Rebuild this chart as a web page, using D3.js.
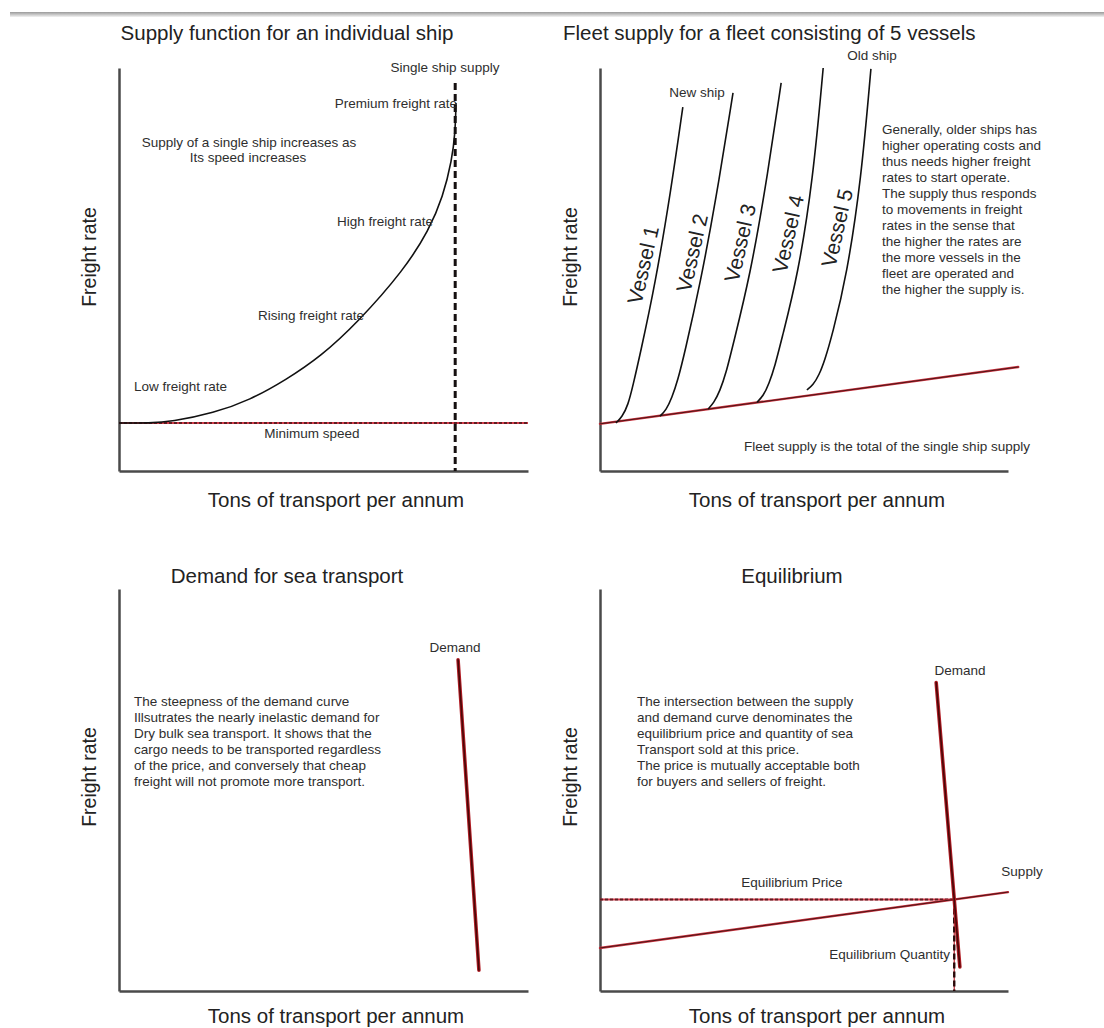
<!DOCTYPE html>
<html><head><meta charset="utf-8">
<script src="https://cdn.jsdelivr.net/npm/d3@7"></script>
<style>body{margin:0;background:#fff;} svg{display:block;font-family:"Liberation Sans",Arial,sans-serif;}</style>
</head><body><svg id="c" width="1104" height="1028"></svg>
<script>
// ---------- DATA ----------
const panelTitles = ["Supply function for an individual ship", "Fleet supply for a fleet consisting of 5 vessels", "Demand for sea transport", "Equilibrium"];
const xAxisLabel = "Tons of transport per annum";
const yAxisLabel = "Freight rate";

// Panel 1: single ship supply curve (x: tons 0-100, y: freight rate 0-100)
const shipCurveX = [0, 7.6, 12.7, 23.2, 32.0, 40.8, 49.4, 58.2, 69.7, 75.8, 79.2, 81.4, 82.2, 82.4];
const shipCurveY = [11.9, 11.9, 12.2, 14.4, 17.6, 22.6, 28.5, 36.7, 49.9, 59.8, 68.0, 77.2, 83.9, 91.3];
const minSpeedRate = [11.9];
const shipCapacity = [82.2];
const shipCapacityTop = [96.3];
const shipLabels = ["Single ship supply", "Premium freight rate", "Supply of a single ship increases as", "Its speed increases", "High freight rate", "Rising freight rate", "Low freight rate", "Minimum speed"];

// Panel 2: fleet supply
const fleetSupplyX = [0, 102.5];
const fleetSupplyY = [11.7, 25.8];
const vesselNames = ["Vessel 1", "Vessel 2", "Vessel 3", "Vessel 4", "Vessel 5"];
const vesselX = [
  [3.9, 5.4, 6.9, 8.1, 9.8, 13.5, 17.4, 20.3],
  [14.7, 16.2, 17.6, 19.1, 20.8, 24.5, 28.4, 32.6],
  [26.5, 27.9, 29.4, 30.9, 32.6, 36.8, 40.7, 44.4],
  [38.5, 40.0, 41.4, 42.9, 44.6, 48.5, 52.2, 54.7],
  [50.7, 52.2, 53.7, 55.1, 56.9, 60.5, 64.0, 66.4]
];
const vesselY = [
  [11.9, 13.4, 16.4, 21.3, 28.8, 46.2, 69.7, 90.3],
  [13.6, 15.1, 18.1, 22.6, 29.5, 46.2, 67.2, 93.8],
  [15.4, 16.9, 19.9, 24.3, 31.3, 48.6, 71.0, 96.3],
  [17.1, 18.6, 21.6, 26.1, 33.0, 48.6, 72.2, 100],
  [20.1, 21.3, 23.8, 27.5, 33.7, 48.6, 72.2, 99.8]
];
const fleetEndLabels = ["New ship", "Old ship"];
const fleetNote = ["Generally, older ships has", "higher operating costs and", "thus needs higher freight", "rates to start operate.", "The supply thus responds", "to movements in freight", "rates in the sense that", "the higher the rates are", "the more vessels in the", "fleet are operated and", "the higher the supply is."];
const fleetFooter = "Fleet supply is the total of the single ship supply";

// Panel 3: demand
const demandX = [82.9, 88.0];
const demandY = [82.4, 5.2];
const demandNote = ["The steepness of the demand curve", "Illsutrates the nearly inelastic demand for", "Dry bulk sea transport. It shows that the", "cargo needs to be transported regardless", "of the price, and conversely that cheap", "freight will not promote more transport."];

// Panel 4: equilibrium
const eqDemandX = [82.4, 88.2];
const eqDemandY = [76.7, 6.0];
const eqSupplyX = [0, 100];
const eqSupplyY = [10.7, 24.6];
const eqLabels = ["Demand", "Supply", "Equilibrium Price", "Equilibrium Quantity"];
const eqNote = ["The intersection between the supply", "and demand curve denominates the", "equilibrium price and quantity of sea", "Transport sold at this price.", "The price is mutually acceptable both", "for buyers and sellers of freight."];

// ---------- LAYOUT ----------
const svg = d3.select("#c");
const TXT = "#2e2e2e";
const AX = "#4a4a4a";
const SMALL = 13.5;
const layout = [
  {x0: 119, y0: 471, w: 409, h: 403, lab: 507},
  {x0: 600, y0: 471, w: 408, h: 403, lab: 507},
  {x0: 119, y0: 991, w: 409, h: 402, lab: 1023},
  {x0: 600, y0: 991, w: 408, h: 402, lab: 1023}
];

// top shadow bar
const defs = svg.append("defs");
const grad = defs.append("linearGradient").attr("id", "topbar").attr("x1", 0).attr("x2", 0).attr("y1", 0).attr("y2", 1);
grad.append("stop").attr("offset", "0%").attr("stop-color", "#9a9a9a");
grad.append("stop").attr("offset", "100%").attr("stop-color", "#f2f2f2");
svg.append("rect").attr("x", 10).attr("y", 12).attr("width", 1094).attr("height", 5).attr("fill", "url(#topbar)");

const scales = layout.map(L => ({
  x: d3.scaleLinear().domain([0, 100]).range([L.x0, L.x0 + L.w]),
  y: d3.scaleLinear().domain([0, 100]).range([L.y0, L.y0 - L.h])
}));

// axes
layout.forEach((L, i) => {
  const s = scales[i];
  const g = svg.append("g");
  g.append("g").attr("transform", `translate(0,${L.y0})`)
    .call(d3.axisBottom(s.x).ticks(0).tickSizeOuter(0))
    .call(a => a.select(".domain").attr("stroke", AX).attr("stroke-width", 2.5));
  g.append("g").attr("transform", `translate(${L.x0},0)`)
    .call(d3.axisLeft(s.y).ticks(0).tickSizeOuter(0))
    .call(a => a.select(".domain").attr("stroke", AX).attr("stroke-width", 2.5));
  svg.append("text").attr("x", L.x0 + 217).attr("y", L.lab)
    .attr("text-anchor", "middle").attr("font-size", 20.5).attr("fill", "#222").text(xAxisLabel);
  svg.append("text").attr("transform", `translate(${L.x0 - 23},${L.y0 - 214}) rotate(-90)`)
    .attr("text-anchor", "middle").attr("font-size", 19.5).attr("fill", "#222").text(yAxisLabel);
});

// titles
const TS = 20.5;
svg.append("text").attr("x", 287).attr("y", 40).attr("text-anchor", "middle").attr("font-size", TS).attr("fill", "#222").text(panelTitles[0]);
svg.append("text").attr("x", 563).attr("y", 40).attr("text-anchor", "start").attr("font-size", TS).attr("fill", "#222").text(panelTitles[1]);
svg.append("text").attr("x", 287).attr("y", 583).attr("text-anchor", "middle").attr("font-size", TS).attr("fill", "#222").text(panelTitles[2]);
svg.append("text").attr("x", 792).attr("y", 583).attr("text-anchor", "middle").attr("font-size", TS).attr("fill", "#222").text(panelTitles[3]);

function label(x, y, t, anchor) {
  return svg.append("text").attr("x", x).attr("y", y).attr("text-anchor", anchor || "start")
    .attr("font-size", SMALL).attr("fill", TXT).text(t);
}
function redDashed(x1, y1, x2, y2) {
  svg.append("line").attr("x1", x1).attr("y1", y1).attr("x2", x2).attr("y2", y2)
    .attr("stroke", "#d23a4a").attr("stroke-width", 2);
  svg.append("line").attr("x1", x1).attr("y1", y1).attr("x2", x2).attr("y2", y2)
    .attr("stroke", "#3a1414").attr("stroke-width", 2).attr("stroke-dasharray", "3,2").attr("opacity", 0.75);
}
function redLine(x1, y1, x2, y2, wide) {
  svg.append("line").attr("x1", x1).attr("y1", y1).attr("x2", x2).attr("y2", y2)
    .attr("stroke", wide ? "#b01c24" : "#cc3340").attr("stroke-width", wide ? 3.6 : 2.4).attr("stroke-linecap", "round");
  svg.append("line").attr("x1", x1).attr("y1", y1).attr("x2", x2).attr("y2", y2)
    .attr("stroke", wide ? "#4a0808" : "#4a1515").attr("stroke-width", wide ? 1.6 : 1).attr("stroke-linecap", "round");
}

// ---------- PANEL 1 ----------
{
  const s = scales[0];
  redDashed(s.x(0), s.y(minSpeedRate[0]), s.x(100), s.y(minSpeedRate[0]));
  svg.append("line").attr("x1", s.x(shipCapacity[0])).attr("x2", s.x(shipCapacity[0]))
    .attr("y1", s.y(shipCapacityTop[0])).attr("y2", s.y(0))
    .attr("stroke", "#161010").attr("stroke-width", 3).attr("stroke-dasharray", "7,4");
  const pts = shipCurveX.map((v, i) => [v, shipCurveY[i]]);
  svg.append("path").datum(pts)
    .attr("d", d3.line().x(d => s.x(d[0])).y(d => s.y(d[1])).curve(d3.curveBasis))
    .attr("fill", "none").attr("stroke", "#111").attr("stroke-width", 1.6);
  label(445, 72, shipLabels[0], "middle");
  label(457, 108, shipLabels[1], "end");
  label(249, 147, shipLabels[2], "middle");
  label(248, 162, shipLabels[3], "middle");
  label(433, 226, shipLabels[4], "end");
  label(311, 320, shipLabels[5], "middle");
  label(134, 391, shipLabels[6], "start");
  label(312, 438, shipLabels[7], "middle");
}

// ---------- PANEL 2 ----------
{
  const s = scales[1];
  redLine(s.x(fleetSupplyX[0]), s.y(fleetSupplyY[0]), s.x(fleetSupplyX[1]), s.y(fleetSupplyY[1]), false);
  const line = d3.line().x(d => s.x(d[0])).y(d => s.y(d[1])).curve(d3.curveBasis);
  vesselX.forEach((xs, k) => {
    const pts = xs.map((v, i) => [v, vesselY[k][i]]);
    svg.append("path").datum(pts).attr("d", line)
      .attr("fill", "none").attr("stroke", "#111").attr("stroke-width", 1.6);
  });
  const vesselLabelPos = [[643, 265], [692, 253], [740, 243], [788, 234], [837, 228]];
  vesselNames.forEach((n, k) => {
    svg.append("text").attr("transform", `translate(${vesselLabelPos[k][0]},${vesselLabelPos[k][1]}) rotate(-77)`)
      .attr("text-anchor", "middle").attr("dy", "0.35em").attr("font-size", 21).attr("fill", "#222").text(n);
  });
  label(697, 97, fleetEndLabels[0], "middle");
  label(872, 60, fleetEndLabels[1], "middle");
  fleetNote.forEach((t, i) => label(882, 134 + 16 * i, t, "start"));
  label(744, 451, fleetFooter, "start");
}

// ---------- PANEL 3 ----------
{
  const s = scales[2];
  redLine(s.x(demandX[0]), s.y(demandY[0]), s.x(demandX[1]), s.y(demandY[1]), true);
  label(455, 652, "Demand", "middle");
  demandNote.forEach((t, i) => label(134, 706 + 16 * i, t, "start"));
}

// ---------- PANEL 4 ----------
{
  const s = scales[3];
  const sm = (eqSupplyY[1] - eqSupplyY[0]) / (eqSupplyX[1] - eqSupplyX[0]);
  const dm = (eqDemandY[1] - eqDemandY[0]) / (eqDemandX[1] - eqDemandX[0]);
  const qx = (eqDemandY[0] - dm * eqDemandX[0] - eqSupplyY[0] + sm * eqSupplyX[0]) / (sm - dm);
  const py = eqSupplyY[0] + sm * (qx - eqSupplyX[0]);
  redDashed(s.x(0), s.y(py), s.x(qx), s.y(py));
  svg.append("line").attr("x1", s.x(qx)).attr("x2", s.x(qx)).attr("y1", s.y(py)).attr("y2", s.y(0))
    .attr("stroke", "#c02a35").attr("stroke-width", 1.2);
  svg.append("line").attr("x1", s.x(qx)).attr("x2", s.x(qx)).attr("y1", s.y(py)).attr("y2", s.y(0))
    .attr("stroke", "#2a0a0a").attr("stroke-width", 2.4).attr("stroke-dasharray", "6,3");
  redLine(s.x(eqSupplyX[0]), s.y(eqSupplyY[0]), s.x(eqSupplyX[1]), s.y(eqSupplyY[1]), false);
  redLine(s.x(eqDemandX[0]), s.y(eqDemandY[0]), s.x(eqDemandX[1]), s.y(eqDemandY[1]), true);
  label(960, 675, eqLabels[0], "middle");
  label(1022, 876, eqLabels[1], "middle");
  label(792, 887, eqLabels[2], "middle");
  label(950, 959, eqLabels[3], "end");
  eqNote.forEach((t, i) => label(637, 706 + 16 * i, t, "start"));
}
</script></body></html>
